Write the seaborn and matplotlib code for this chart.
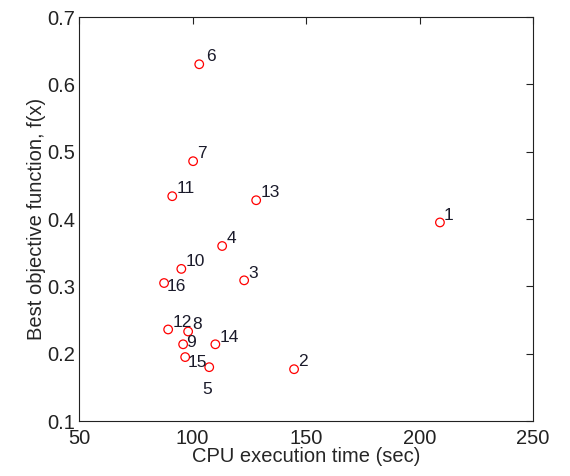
import pandas as pd
import matplotlib
matplotlib.use("Agg")
import matplotlib.pyplot as plt
import seaborn as sns

# === data ===
run_ids = [1, 2, 3, 4, 5, 6, 7, 8, 9, 10, 11, 12, 13, 14, 15, 16]
cpu_time = [209.0, 144.7, 122.7, 113.0, 107.3, 102.9, 100.2, 98.0, 95.8, 95.0, 91.0, 89.2, 128.0, 110.0, 96.7, 87.4]
best_fx = [0.395, 0.177, 0.309, 0.360, 0.180, 0.630, 0.486, 0.233, 0.214, 0.326, 0.434, 0.236, 0.428, 0.214, 0.195, 0.305]

df = pd.DataFrame({"run": run_ids, "cpu": cpu_time, "fx": best_fx})

# label offsets (points) - most labels sit up-right of the marker
offsets = {5: (-5, -19), 16: (2, -6), 6: (5, 2), 15: (2, -7), 9: (2, -2)}

# === plot ===
sns.set_style("white")
plt.rcParams['font.family'] = ['Liberation Sans', 'DejaVu Sans']

fig = plt.figure(figsize=(5.7, 4.76), dpi=100)
ax = fig.add_axes([0.139, 0.1155, 0.796, 0.8485])

sns.scatterplot(data=df, x="cpu", y="fx", ax=ax, marker="o", s=38,
                facecolor="none", edgecolor="red", linewidth=0.9, legend=False)

for r, x, y in zip(df["run"], df["cpu"], df["fx"]):
    dx, dy = offsets.get(r, (3, 2))
    ax.annotate(str(r), (x, y), xytext=(dx, dy), textcoords="offset points",
                fontsize=12.5, color="#1a1a2a")

ax.set_xlim(50, 250)
ax.set_ylim(0.1, 0.7)
ax.set_xticks([50, 100, 150, 200, 250])
ax.set_yticks([0.1, 0.2, 0.3, 0.4, 0.5, 0.6, 0.7])
ax.set_yticklabels(["0.1", "0.2", "0.3", "0.4", "0.5", "0.6", "0.7"])
ax.tick_params(direction="in", length=5, width=0.8, top=True, right=True,
               labelsize=14.5, colors="#222222")
ax.tick_params(axis="x", pad=6)
ax.tick_params(axis="y", pad=3)
for sp in ax.spines.values():
    sp.set_color("#222222")
    sp.set_linewidth(0.8)
ax.set_xlabel("CPU execution time (sec)", fontsize=14.5, labelpad=-1)
ax.set_ylabel("Best objective function, f(x)", fontsize=14.5, labelpad=1)

fig.savefig("out.png", dpi=100)
